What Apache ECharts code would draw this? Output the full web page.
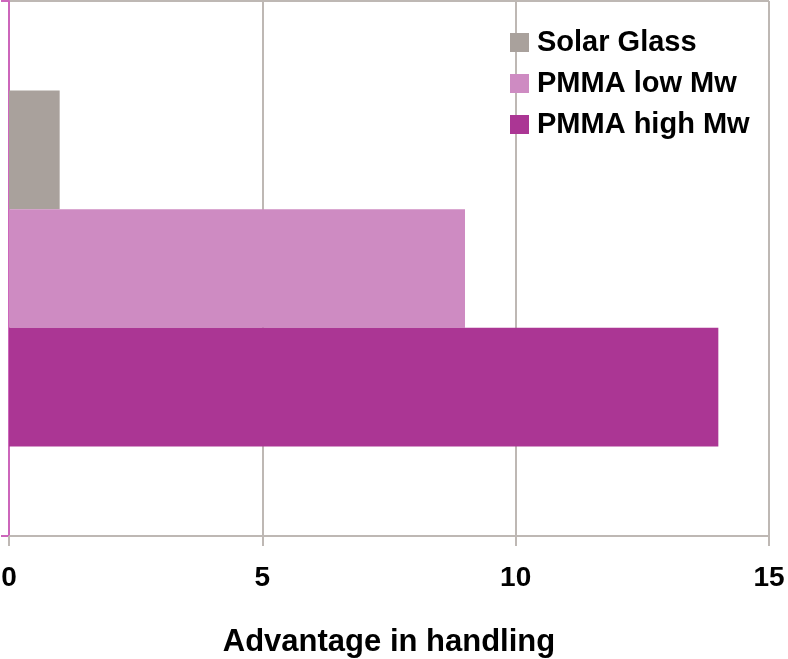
<!DOCTYPE html>
<html>
<head>
<meta charset="utf-8">
<script src="https://cdn.jsdelivr.net/npm/echarts@6/dist/echarts.min.js"></script>
<style>
  html, body { margin: 0; padding: 0; background: #fff; }
  #chart { width: 788px; height: 659px; }
</style>
</head>
<body>
<div id="chart"></div>
<script>
// Handling advantage per material
const categories = ['Handling'];
const seriesNames = ['Solar Glass', 'PMMA low Mw', 'PMMA high Mw'];
const solarGlass = [1];
const pmmaLowMw = [9];
const pmmaHighMw = [14];
const xTicks = { min: 0, max: 15, interval: 5 };
const colors = ['#A9A19C', '#CE8BC2', '#AB3694'];

const font = 'Liberation Sans, Arial, sans-serif';
const values = [solarGlass, pmmaLowMw, pmmaHighMw];

const chart = echarts.init(document.getElementById('chart'));
chart.setOption({
  animation: false,
  backgroundColor: '#ffffff',
  grid: { left: 9, right: 19, top: 1, bottom: 123, containLabel: false, outerBoundsMode: 'none' },
  legend: {
    orient: 'vertical',
    left: 510,
    top: 28,
    padding: 0,
    itemWidth: 19,
    itemHeight: 19,
    itemGap: 12,
    icon: 'rect',
    data: seriesNames,
    textStyle: { fontFamily: font, fontWeight: 'bold', fontSize: 29, color: '#000', padding: [0, 0, 0, 3] }
  },
  xAxis: {
    type: 'value',
    min: xTicks.min,
    max: xTicks.max,
    interval: xTicks.interval,
    name: 'Advantage in handling',
    nameLocation: 'middle',
    nameGap: 91,
    nameTextStyle: { fontFamily: font, fontWeight: 'bold', fontSize: 31, color: '#000' },
    axisLine: { show: true, lineStyle: { color: '#BEB8B4', width: 2 } },
    axisTick: { show: true, length: 10, lineStyle: { color: '#BEB8B4', width: 2 } },
    axisLabel: { fontFamily: font, fontWeight: 'bold', fontSize: 28, color: '#000', margin: 28 },
    splitLine: { show: true, lineStyle: { color: '#BEB8B4', width: 2 } }
  },
  yAxis: {
    type: 'category',
    data: categories,
    inverse: true,
    axisLine: { show: true, lineStyle: { color: '#CC66BB', width: 2 } },
    axisTick: { show: true, length: 8, lineStyle: { color: '#CC66BB', width: 2 } },
    axisLabel: { show: false },
    splitLine: { show: true, lineStyle: { color: '#BEB8B4', width: 2 } }
  },
  series: seriesNames.map((name, i) => ({
    name: name,
    type: 'bar',
    data: values[i],
    barGap: '0%',
    barCategoryGap: '33.5%',
    itemStyle: { color: colors[i] }
  }))
});
</script>
</body>
</html>
